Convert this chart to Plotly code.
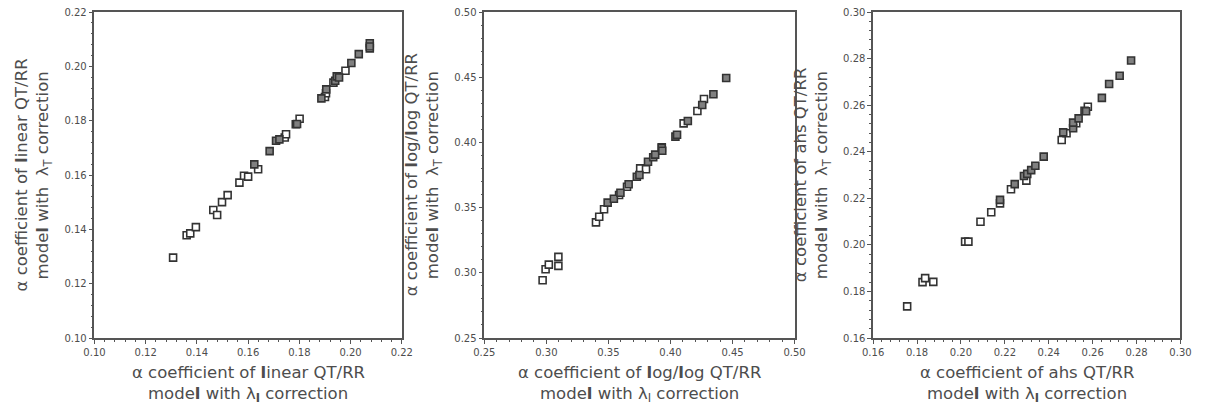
import plotly.graph_objects as go

# ---------------- data ----------------
# Panel 1: linear QT/RR
lin_open_x = [0.1307, 0.1360, 0.1374, 0.1396, 0.1464, 0.1479, 0.1498, 0.1520, 0.1566, 0.1584,
              0.1600, 0.1639, 0.1743, 0.1748, 0.1801, 0.1900, 0.1904, 0.1933, 0.1980, 0.2075]
lin_open_y = [0.1296, 0.1378, 0.1385, 0.1408, 0.1471, 0.1453, 0.1500, 0.1526, 0.1572, 0.1597,
              0.1594, 0.1621, 0.1738, 0.1750, 0.1807, 0.1887, 0.1901, 0.1940, 0.1984, 0.2066]
lin_fill_x = [0.1624, 0.1684, 0.1709, 0.1722, 0.1786, 0.1791, 0.1886, 0.1905, 0.1940, 0.1946,
              0.1955, 0.2003, 0.2032, 0.2075, 0.2075]
lin_fill_y = [0.1639, 0.1688, 0.1726, 0.1731, 0.1787, 0.1788, 0.1882, 0.1915, 0.1947, 0.1963,
              0.1959, 0.2012, 0.2045, 0.2085, 0.2073]

# Panel 2: log/log QT/RR
log_open_x = [0.2970, 0.2994, 0.3020, 0.3097, 0.3097, 0.3400, 0.3426, 0.3465, 0.3586, 0.3650,
              0.3756, 0.3803, 0.3930, 0.4106, 0.4217, 0.4270]
log_open_y = [0.2943, 0.3027, 0.3063, 0.3053, 0.3122, 0.3387, 0.3430, 0.3487, 0.3597, 0.3660,
              0.3801, 0.3794, 0.3962, 0.4146, 0.4241, 0.4333]
log_fill_x = [0.3494, 0.3544, 0.3597, 0.3663, 0.3729, 0.3750, 0.3819, 0.3861, 0.3877, 0.3930,
              0.3934, 0.4040, 0.4053, 0.4140, 0.4256, 0.4346, 0.4449]
log_fill_y = [0.3538, 0.3568, 0.3614, 0.3679, 0.3737, 0.3750, 0.3852, 0.3886, 0.3906, 0.3958,
              0.3936, 0.4044, 0.4059, 0.4164, 0.4287, 0.4369, 0.4494]

# Panel 3: ahs QT/RR
ahs_open_x = [0.1755, 0.1825, 0.1837, 0.1874, 0.2019, 0.2034, 0.2089, 0.2138, 0.2178, 0.2228,
              0.2298, 0.2459, 0.2481, 0.2525, 0.2578]
ahs_open_y = [0.1736, 0.1840, 0.1857, 0.1841, 0.2014, 0.2014, 0.2099, 0.2140, 0.2178, 0.2239,
              0.2276, 0.2450, 0.2479, 0.2522, 0.2593]
ahs_fill_x = [0.2178, 0.2245, 0.2287, 0.2302, 0.2320, 0.2339, 0.2377, 0.2466, 0.2511, 0.2511,
              0.2536, 0.2563, 0.2570, 0.2642, 0.2675, 0.2723, 0.2775]
ahs_fill_y = [0.2193, 0.2261, 0.2296, 0.2305, 0.2321, 0.2340, 0.2379, 0.2483, 0.2501, 0.2525,
              0.2543, 0.2576, 0.2574, 0.2631, 0.2691, 0.2726, 0.2792]

model_names = ["linear", "log/log", "ahs"]
axis_ranges = [(0.10, 0.22), (0.25, 0.50), (0.16, 0.30)]
major_steps = [0.02, 0.05, 0.02]
minor_steps = [0.004, 0.01, 0.004]
tick_formats = [".2f", ".2f", ".2f"]

# ---------------- styling ----------------
W, H = 1217, 410
FONT = "DejaVu Sans"
TXT = "#4d4d4d"
AX = "#555555"
domains = [(85 / W, 398 / W), (482 / W, 798 / W), (878 / W, 1191 / W)]

fig = go.Figure()
series = [
    (lin_open_x, lin_open_y, lin_fill_x, lin_fill_y),
    (log_open_x, log_open_y, log_fill_x, log_fill_y),
    (ahs_open_x, ahs_open_y, ahs_fill_x, ahs_fill_y),
]

annotations = []
for i, (ox, oy, fx, fy) in enumerate(series):
    sfx = "" if i == 0 else str(i + 1)
    fig.add_trace(go.Scatter(
        x=ox, y=oy, mode="markers", xaxis="x" + sfx, yaxis="y" + sfx, showlegend=False,
        marker=dict(symbol="square", size=7, color="white",
                    line=dict(color="#333333", width=1.6))))
    fig.add_trace(go.Scatter(
        x=fx, y=fy, mode="markers", xaxis="x" + sfx, yaxis="y" + sfx, showlegend=False,
        marker=dict(symbol="square", size=7, color="#808080",
                    line=dict(color="#333333", width=1.6))))

    lo, hi = axis_ranges[i]
    common = dict(
        range=[lo, hi], dtick=major_steps[i], tick0=lo, tickformat=tick_formats[i],
        showgrid=False, zeroline=False,
        showline=True, linecolor=AX, linewidth=1.5, mirror=True,
        ticks="outside", ticklen=4, tickwidth=1.2, tickcolor=AX,
        tickfont=dict(family=FONT, size=10, color=TXT),
        minor=dict(dtick=minor_steps[i], tick0=lo, ticks="outside", ticklen=2,
                   tickwidth=1, tickcolor=AX, showgrid=False),
    )
    fig.update_layout(**{
        "xaxis" + sfx: dict(domain=list(domains[i]), anchor="y" + sfx, **common),
        "yaxis" + sfx: dict(domain=[0, 1], anchor="x" + sfx, **common),
    })

    name = model_names[i].replace("l", "<b>l</b>")
    sub_x = "<sub><b>I</b></sub>" if i != 1 else "<sub>I</sub>"
    cx = (domains[i][0] + domains[i][1]) / 2
    lines_x = [f"α coefficient of {name} QT/RR", f"mode<b>l</b> with λ{sub_x} correction"]
    lines_y = [f"α coefficient of {name} QT/RR", "mode<b>l</b> with  λ<sub>T</sub> correction"]
    for t, shift in zip(lines_x, [-34, -56]):
        annotations.append(dict(
            text=t, xref="paper", yref="paper", x=cx, y=0, xanchor="center",
            yanchor="middle", yshift=shift, showarrow=False,
            font=dict(family=FONT, size=16.5, color=TXT)))
    for t, shift in zip(lines_y, [-73, -51]):
        annotations.append(dict(
            text=t, xref="paper", yref="paper", x=domains[i][0], y=0.5,
            xanchor="center", yanchor="middle", xshift=shift, textangle=-90,
            showarrow=False, font=dict(family=FONT, size=16.5, color=TXT)))

fig.update_layout(
    width=W, height=H,
    margin=dict(l=0, r=0, t=12, b=72),
    paper_bgcolor="white", plot_bgcolor="white",
    annotations=annotations,
)

fig.write_html("out.html")
